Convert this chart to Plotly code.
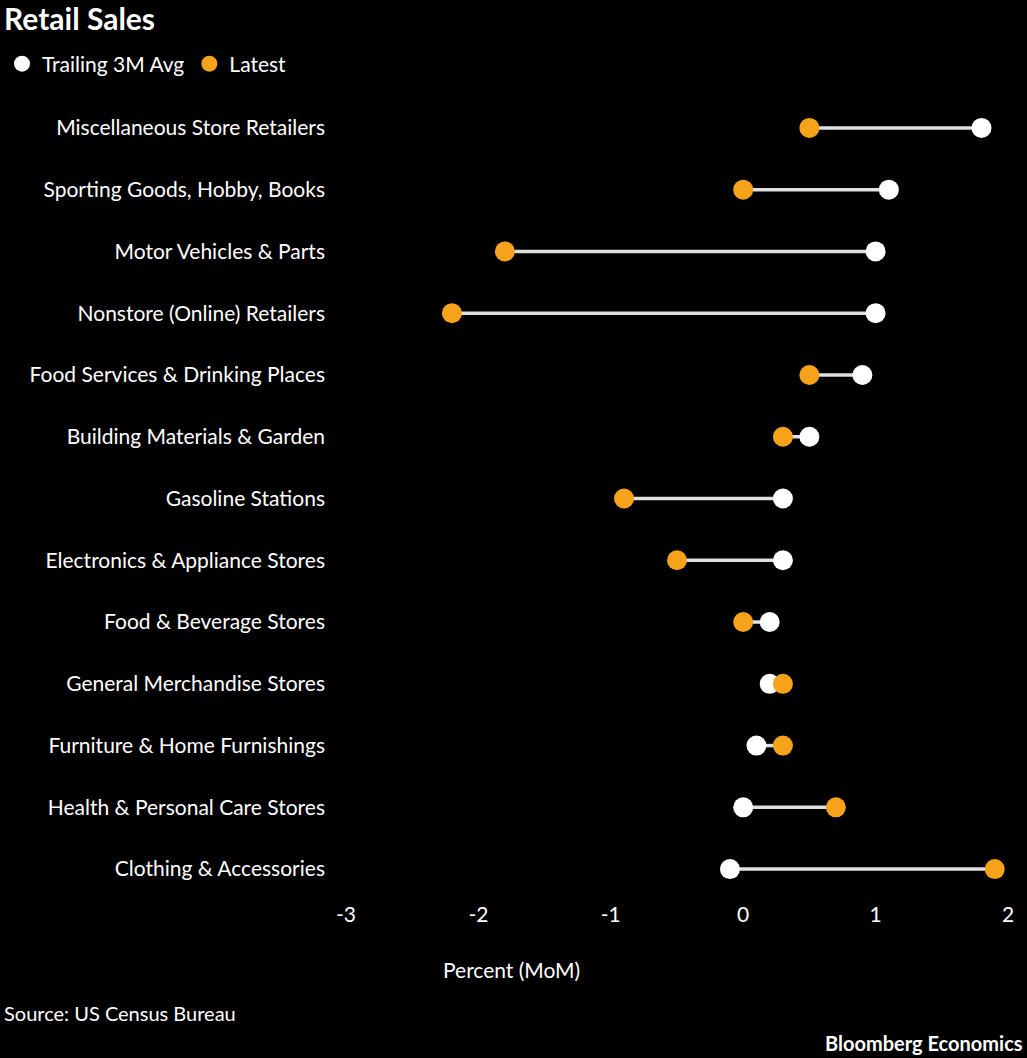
import plotly.graph_objects as go

categories = ["Miscellaneous Store Retailers", "Sporting Goods, Hobby, Books", "Motor Vehicles & Parts",
              "Nonstore (Online) Retailers", "Food Services & Drinking Places", "Building Materials & Garden",
              "Gasoline Stations", "Electronics & Appliance Stores", "Food & Beverage Stores",
              "General Merchandise Stores", "Furniture & Home Furnishings", "Health & Personal Care Stores",
              "Clothing & Accessories"]
trailing = [1.8, 1.1, 1.0, 1.0, 0.9, 0.5, 0.3, 0.3, 0.2, 0.2, 0.1, 0.0, -0.1]
latest = [0.5, 0.0, -1.8, -2.2, 0.5, 0.3, -0.9, -0.5, 0.0, 0.3, 0.3, 0.7, 1.9]
tick_vals = [-3, -2, -1, 0, 1, 2]
tick_text = ["-3", "-2", "-1", "0", "1", "2"]

lx, ly = [], []
for c, a, b in zip(categories, trailing, latest):
    lx += [a, b, None]
    ly += [c, c, None]

fig = go.Figure()
fig.add_trace(go.Scatter(x=lx, y=ly, mode="lines", line=dict(color="#e0e0e0", width=3.5),
                         showlegend=False, hoverinfo="skip"))
fig.add_trace(go.Scatter(x=trailing, y=categories, mode="markers", name="Trailing 3M Avg",
                         marker=dict(color="white", size=20)))
fig.add_trace(go.Scatter(x=latest, y=categories, mode="markers", name="Latest",
                         marker=dict(color="#f7a21b", size=20)))

font = "Lato, Liberation Sans, sans-serif"
W, H = 1027, 1058
L, R, T, B = 346, 19, 97, 158
pw, ph = W - L - R, H - T - B
fig.update_layout(
    width=W, height=H, paper_bgcolor="black", plot_bgcolor="black",
    font=dict(family=font, color="white", size=21),
    margin=dict(l=L, r=R, t=T, b=B, autoexpand=False),
    legend=dict(orientation="h", x=-(L - 2) / pw, xanchor="left", y=1 + (T - 64) / ph, yanchor="middle",
                font=dict(size=21), itemwidth=30, bgcolor="rgba(0,0,0,0)", tracegroupgap=0),
    xaxis=dict(range=[-3, 2], tickvals=tick_vals, ticktext=tick_text, showgrid=False, zeroline=False,
               showline=False, ticks="", tickfont=dict(size=21), automargin=False),
    yaxis=dict(categoryorder="array", categoryarray=categories[::-1], showgrid=False, zeroline=False,
               ticks="", ticklabelstandoff=20, tickfont=dict(size=21), range=[-0.5, 12.5], automargin=False),
)
fig.add_annotation(text="<b>Retail Sales</b>", xref="paper", yref="paper", x=-(L - 2) / pw, y=1 + (T - 18) / ph,
                   xanchor="left", yanchor="middle", showarrow=False, font=dict(size=30))
fig.add_annotation(text="Percent (MoM)", xref="paper", yref="paper", x=(511 - L) / pw, y=-(970 - T - ph) / ph,
                   xanchor="center", yanchor="middle", showarrow=False, font=dict(size=21))
fig.add_annotation(text="Source: US Census Bureau", xref="paper", yref="paper", x=-(L - 2) / pw, y=-113 / ph,
                   xanchor="left", yanchor="middle", showarrow=False, font=dict(size=20))
fig.add_annotation(text="<b>Bloomberg Economics</b>", xref="paper", yref="paper", x=1 + (R - 2) / pw, y=-143 / ph,
                   xanchor="right", yanchor="middle", showarrow=False, font=dict(size=20))
fig.write_html("out.html", post_script="document.body.style.margin='0';",
               config={"displayModeBar": False})
